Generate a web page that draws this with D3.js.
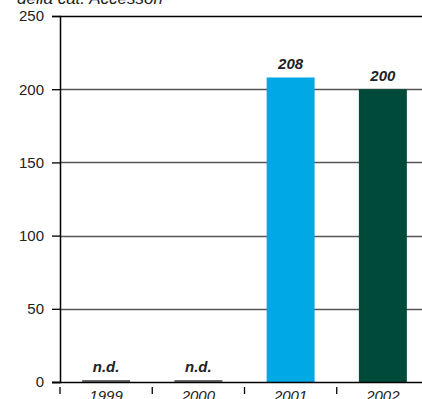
<!DOCTYPE html>
<html><head><meta charset="utf-8">
<script src="https://cdn.jsdelivr.net/npm/d3@7"></script>
<style>html,body{margin:0;padding:0;background:#fff;overflow:hidden}</style>
</head><body>
<svg id="c" width="422" height="399"></svg>
<script>
const categories = ["1999","2000","2001","2002"];
const values = [0, 0, 208, 200];
const valueLabels = ["n.d.","n.d.","208","200"];
const barColors = ["#6b6b6b","#6b6b6b","#00a8e4","#004a3a"];
const yTicks = [0,50,100,150,200,250];
const title = "della cat. Accessori";

const svg = d3.select("#c");
const font = "Liberation Sans, Arial, sans-serif";
const x0 = 60, x1 = 429, yTop = 16, yBot = 382;
const x = d3.scaleBand().domain(categories).range([x0, x1]).paddingInner(0.48).paddingOuter(0.24);
const y = d3.scaleLinear().domain([0,250]).range([yBot, yTop]);

svg.append("text").attr("x", 17).attr("y", 4).attr("font-family", font)
  .attr("font-style","italic").attr("font-size", 17).attr("fill","#222").text(title);

// gridlines
svg.append("g").selectAll("line").data(yTicks.filter(d=>d>0)).join("line")
  .attr("x1", x0).attr("x2", 422).attr("y1", d=>Math.round(y(d))+0.5).attr("y2", d=>Math.round(y(d))+0.5)
  .attr("stroke", d=> d===250 ? "#000" : "#555").attr("stroke-width", 1.3);

// y axis
const ya = svg.append("g").attr("transform", `translate(${x0},0)`)
  .call(d3.axisLeft(y).tickValues(yTicks).tickSize(8).tickPadding(8));
ya.select(".domain").attr("stroke","#000").attr("stroke-width",1.5);
ya.selectAll(".tick line").attr("stroke","#000").attr("stroke-width",1.3);
ya.selectAll(".tick text").attr("font-family", font).attr("font-size", 15).attr("fill","#222");

// bars
svg.append("g").selectAll("rect").data(categories).join("rect")
  .attr("x", d=>x(d)).attr("width", x.bandwidth())
  .attr("y", (d,i)=> values[i] > 0 ? y(values[i]) : y(0)-2)
  .attr("height", (d,i)=> values[i] > 0 ? y(0)-y(values[i]) : 2)
  .attr("fill", (d,i)=>barColors[i]);

// x axis baseline
svg.append("line").attr("x1", x0-8).attr("x2", 422).attr("y1", yBot+0.5).attr("y2", yBot+0.5)
  .attr("stroke","#000").attr("stroke-width",1.5);

// category ticks (at band boundaries)
const bounds = categories.map((d,i)=> x0 + i*(x1-x0)/categories.length);
svg.append("g").selectAll("line").data(bounds).join("line")
  .attr("x1", d=>d).attr("x2", d=>d).attr("y1", yBot+5).attr("y2", yBot+12)
  .attr("stroke","#000").attr("stroke-width",1.3);

svg.append("g").selectAll("text").data(categories).join("text")
  .attr("x", d=>x(d)+x.bandwidth()/2).attr("y", 401).attr("text-anchor","middle")
  .attr("font-family", font).attr("font-style","italic").attr("font-size", 15).attr("fill","#222")
  .text(d=>d);

// value labels
svg.append("g").selectAll("text").data(categories).join("text")
  .attr("x", d=>x(d)+x.bandwidth()/2)
  .attr("y", (d,i)=> y(values[i]) - (values[i] > 0 ? 8 : 10))
  .attr("text-anchor","middle").attr("font-family", font).attr("font-style","italic")
  .attr("font-weight","bold").attr("font-size", 15).attr("fill","#222")
  .text((d,i)=>valueLabels[i]);
</script>
</body></html>
